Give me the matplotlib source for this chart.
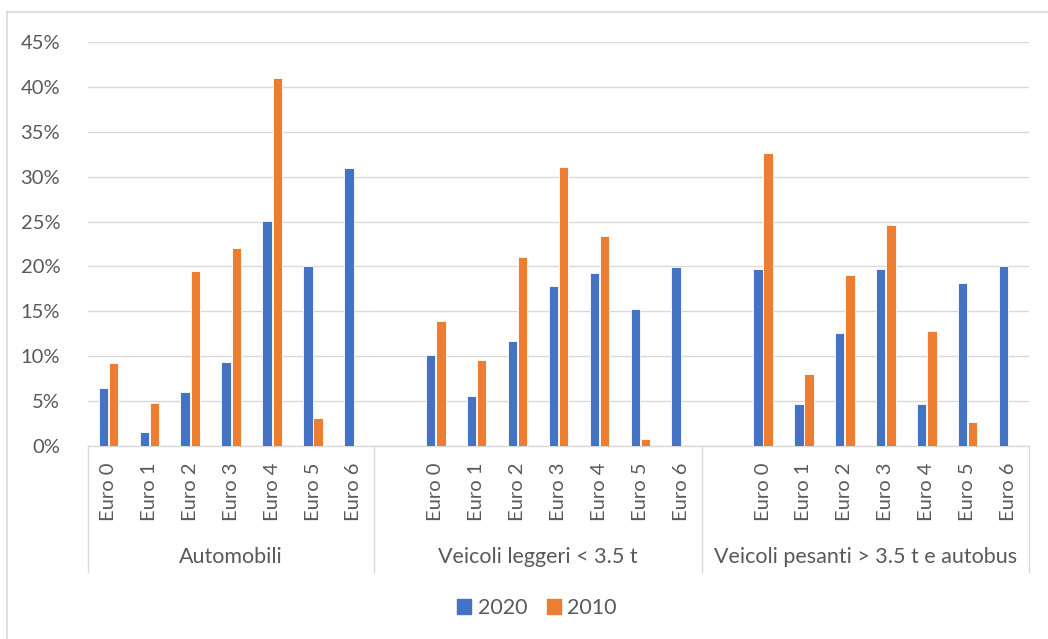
import numpy as np
import matplotlib.pyplot as plt
from matplotlib.lines import Line2D
from matplotlib.patches import Patch

groups = ['Automobili', 'Veicoli leggeri < 3.5 t', 'Veicoli pesanti > 3.5 t e autobus']
classes = ['Euro 0', 'Euro 1', 'Euro 2', 'Euro 3', 'Euro 4', 'Euro 5', 'Euro 6']

# quote per classe Euro, in %
auto_2020 = [6.5, 1.6, 6.0, 9.35, 25.05, 20.0, 31.0]
auto_2010 = [9.3, 4.75, 19.5, 22.1, 41.0, 3.1, 0.0]
legg_2020 = [10.1, 5.6, 11.7, 17.8, 19.3, 15.3, 19.9]
legg_2010 = [13.9, 9.6, 21.0, 31.1, 23.4, 0.75, 0.0]
pes_2020 = [19.7, 4.7, 12.6, 19.7, 4.7, 18.2, 20.1]
pes_2010 = [32.6, 8.05, 19.0, 24.6, 12.8, 2.7, 0.0]

BLUE = '#4472C4'
ORANGE = '#ED7D31'
GRID = '#D9D9D9'
TXT = '#595959'
FS = 14.5

plt.rcParams['font.family'] = ['Lato', 'DejaVu Sans']

fig = plt.figure(figsize=(10.48, 6.39), dpi=100)
ax = fig.add_axes([88 / 1048, 1 - 446 / 639, (1029 - 88) / 1048, 404 / 639])

s2020 = [auto_2020, legg_2020, pes_2020]
s2010 = [auto_2010, legg_2010, pes_2010]
n = len(classes)
xticks, xlabels = [], []
for g in range(len(groups)):
    x = np.arange(n) + g * (n + 1)
    ax.bar(x - 0.125, np.array(s2020[g]) / 100, width=0.23, color=BLUE,
           edgecolor='white', linewidth=0.6, zorder=3)
    ax.bar(x + 0.125, np.array(s2010[g]) / 100, width=0.23, color=ORANGE,
           edgecolor='white', linewidth=0.6, zorder=3)
    xticks += list(x)
    xlabels += classes

total = len(groups) * (n + 1) - 1
ax.set_xlim(-0.5, total - 0.5)
ax.set_ylim(0, 0.45)
yt = np.arange(0, 0.46, 0.05)
ax.set_yticks(yt)
ax.set_yticklabels([f'{int(round(v * 100))}%' for v in yt])
ax.yaxis.grid(True, color=GRID, linewidth=1.0, zorder=0)
ax.set_axisbelow(True)
ax.tick_params(axis='y', length=0, pad=20, labelsize=FS, labelcolor=TXT)
ax.set_xticks(xticks)
ax.set_xticklabels(xlabels, rotation=90, va='top')
ax.tick_params(axis='x', length=0, pad=12, labelsize=FS, labelcolor=TXT)

for sp in ['top', 'right', 'left']:
    ax.spines[sp].set_visible(False)
ax.spines['bottom'].set_color(GRID)
ax.spines['bottom'].set_linewidth(1.0)

# separatori e etichette dei gruppi
trans = ax.get_xaxis_transform()
seps = [-0.5, n - 0.5, 2 * (n + 1) - 1.5, total - 0.5]
for sx in seps:
    ax.add_line(Line2D([sx, sx], [0, -0.312], transform=trans, color=GRID,
                       linewidth=1.0, clip_on=False))
for g, name in enumerate(groups):
    cx = (seps[g] + seps[g + 1]) / 2
    ax.text(cx, -0.275, name, transform=trans, ha='center', va='center',
            fontsize=FS + 1, color=TXT)

handles = [Patch(color=BLUE, label='2020'), Patch(color=ORANGE, label='2010')]
fig.legend(handles=handles, loc='center', bbox_to_anchor=(537 / 1048, 1 - 608 / 639),
           ncol=2, frameon=False, fontsize=FS + 1, labelcolor=TXT,
           handlelength=0.65, handleheight=0.65, handletextpad=0.3, columnspacing=0.9)

# bordo del grafico
fig.add_artist(Line2D([7 / 1048, 1], [1 - 12 / 639, 1 - 12 / 639], color=GRID,
                      linewidth=1.2, transform=fig.transFigure))
fig.add_artist(Line2D([7 / 1048, 7 / 1048], [0, 1 - 12 / 639], color=GRID,
                      linewidth=1.2, transform=fig.transFigure))

fig.savefig('out.png', dpi=100)
